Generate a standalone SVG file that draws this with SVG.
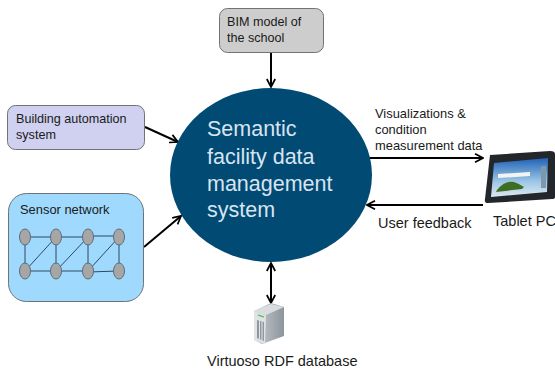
<svg xmlns="http://www.w3.org/2000/svg" width="555" height="369" viewBox="0 0 555 369">
<defs>
<marker id="arr" viewBox="0 0 10 10" refX="9" refY="5" markerWidth="10" markerHeight="10" markerUnits="userSpaceOnUse" orient="auto-start-reverse"><path d="M1 0.8L9 5L1 9.2" fill="none" stroke="#000" stroke-width="1.7"/></marker>
<linearGradient id="srv" x1="0" x2="1" y1="0" y2="0"><stop offset="0" stop-color="#c8cdd2"/><stop offset="1" stop-color="#8d959c"/></linearGradient>
<linearGradient id="sky" x1="0" x2="0" y1="0" y2="1"><stop offset="0" stop-color="#1f62b5"/><stop offset=".6" stop-color="#9cc6e6"/><stop offset="1" stop-color="#dceaf0"/></linearGradient>
</defs>
<style>
text{font-family:"Liberation Sans",Arial,sans-serif;fill:#1a1a1a;font-size:12.6px}
.box{stroke:#6f7378;stroke-width:1}
.c{stroke:#000;stroke-width:2;fill:none;marker-end:url(#arr)}
.n{stroke:#2f4a5c;stroke-width:1;fill:none}
.s{fill:#a6a6a6;stroke:#5e6e7a;stroke-width:1}
.m{fill:#d8e4f0;font-size:21.5px}
.l{font-size:14.5px}
</style>
<rect width="555" height="369" fill="#fff"/>
<g id="connectors">
<path class="c" d="M271 52V87"/>
<path class="c" d="M145 127L178 142"/>
<path class="c" d="M144 247L181 216"/>
<path class="c" d="M368 158H483"/>
<path class="c" d="M483 205H367"/>
<path class="c" d="M271 263V303" style="marker-start:url(#arr)"/>
</g>
<g id="bim"><rect class="box" x="219.500" y="8.500" width="104" height="44" rx="8" fill="#cdcdcd"/><text x="227" y="26">BIM model of</text><text x="227" y="42">the school</text></g>
<g id="bas"><rect class="box" x="7.500" y="105.500" width="137" height="44" rx="8" fill="#d0d0f0"/><text x="16" y="123">Building automation</text><text x="16" y="139">system</text></g>
<g id="sensor">
<rect class="box" x="8.500" y="193.500" width="135" height="108" rx="18" fill="#9fd9fd"/>
<text x="20" y="214" style="font-size:12.9px">Sensor network</text>
<path class="n" d="M25 237H56H88M88 236H119M25 271H56H88M88 272L119 271M25 237V271M56 237V271M88 237V271M119 237V271M25 271L56 237M56 271L88 237M88 271L119 237"/>
<ellipse class="s" cx="25" cy="237" rx="5.500" ry="8"/><ellipse class="s" cx="56" cy="237" rx="5.500" ry="8"/><ellipse class="s" cx="88" cy="237" rx="5.500" ry="8"/><ellipse class="s" cx="119" cy="237" rx="5.500" ry="8"/>
<ellipse class="s" cx="25" cy="271" rx="5.500" ry="8"/><ellipse class="s" cx="56" cy="271" rx="5.500" ry="8"/><ellipse class="s" cx="88" cy="271" rx="5.500" ry="8"/><ellipse class="s" cx="119" cy="271" rx="5.500" ry="8"/>
</g>
<g id="core"><ellipse cx="271" cy="175" rx="101" ry="87" fill="#004a74"/>
<text class="m" x="207" y="136">Semantic</text><text class="m" x="207" y="164">facility data</text><text class="m" x="207" y="191">management</text><text class="m" x="207" y="217">system</text></g>
<g id="labels"><text x="375" y="118" style="font-size:12.9px">Visualizations &amp;</text><text x="375" y="134" style="font-size:12.9px">condition</text><text x="375" y="150" style="font-size:12.9px">measurement data</text><text class="l" x="378" y="228">User feedback</text></g>
<g id="tablet">
<path d="M490 155L550 151Q555 151 555 154V197Q555 199 552 199L488 203Q484 203 485 199Z" fill="#23262b"/>
<path d="M494 163L548 158L547 192L491 197Z" fill="url(#sky)"/>
<path d="M498 174L530 172V176L498 178Z" fill="#f2f4f4"/>
<path d="M497 190Q505 180 514 182Q520 184 524 187L522 189L496 192Z" fill="#3f6e22"/>
<path d="M541 166H546V188H541Z" fill="#7d97ab"/>
<text class="l" x="493" y="226">Tablet PC</text>
</g>
<g id="server">
<path d="M254 311L271 303L284 307V336L262 344L254 340Z" fill="url(#srv)"/>
<path d="M254 311L271 304L284 307L266 315Z" fill="#d9dde0"/>
<path d="M254 311L266 315L265 344L254 340Z" fill="#dfe3e6"/>
<path d="M257 320L264 322V341L257 338Z" fill="#8f979e"/>
<path d="M259.500 320V339M262 321V340" stroke="#e4e7ea" stroke-width="1"/>
<path d="M258 315L264 317" stroke="#67c46a" stroke-width="1.500"/>
<text id="dbtext" class="l" x="207" y="366">Virtuoso RDF database</text>
</g>
</svg>
